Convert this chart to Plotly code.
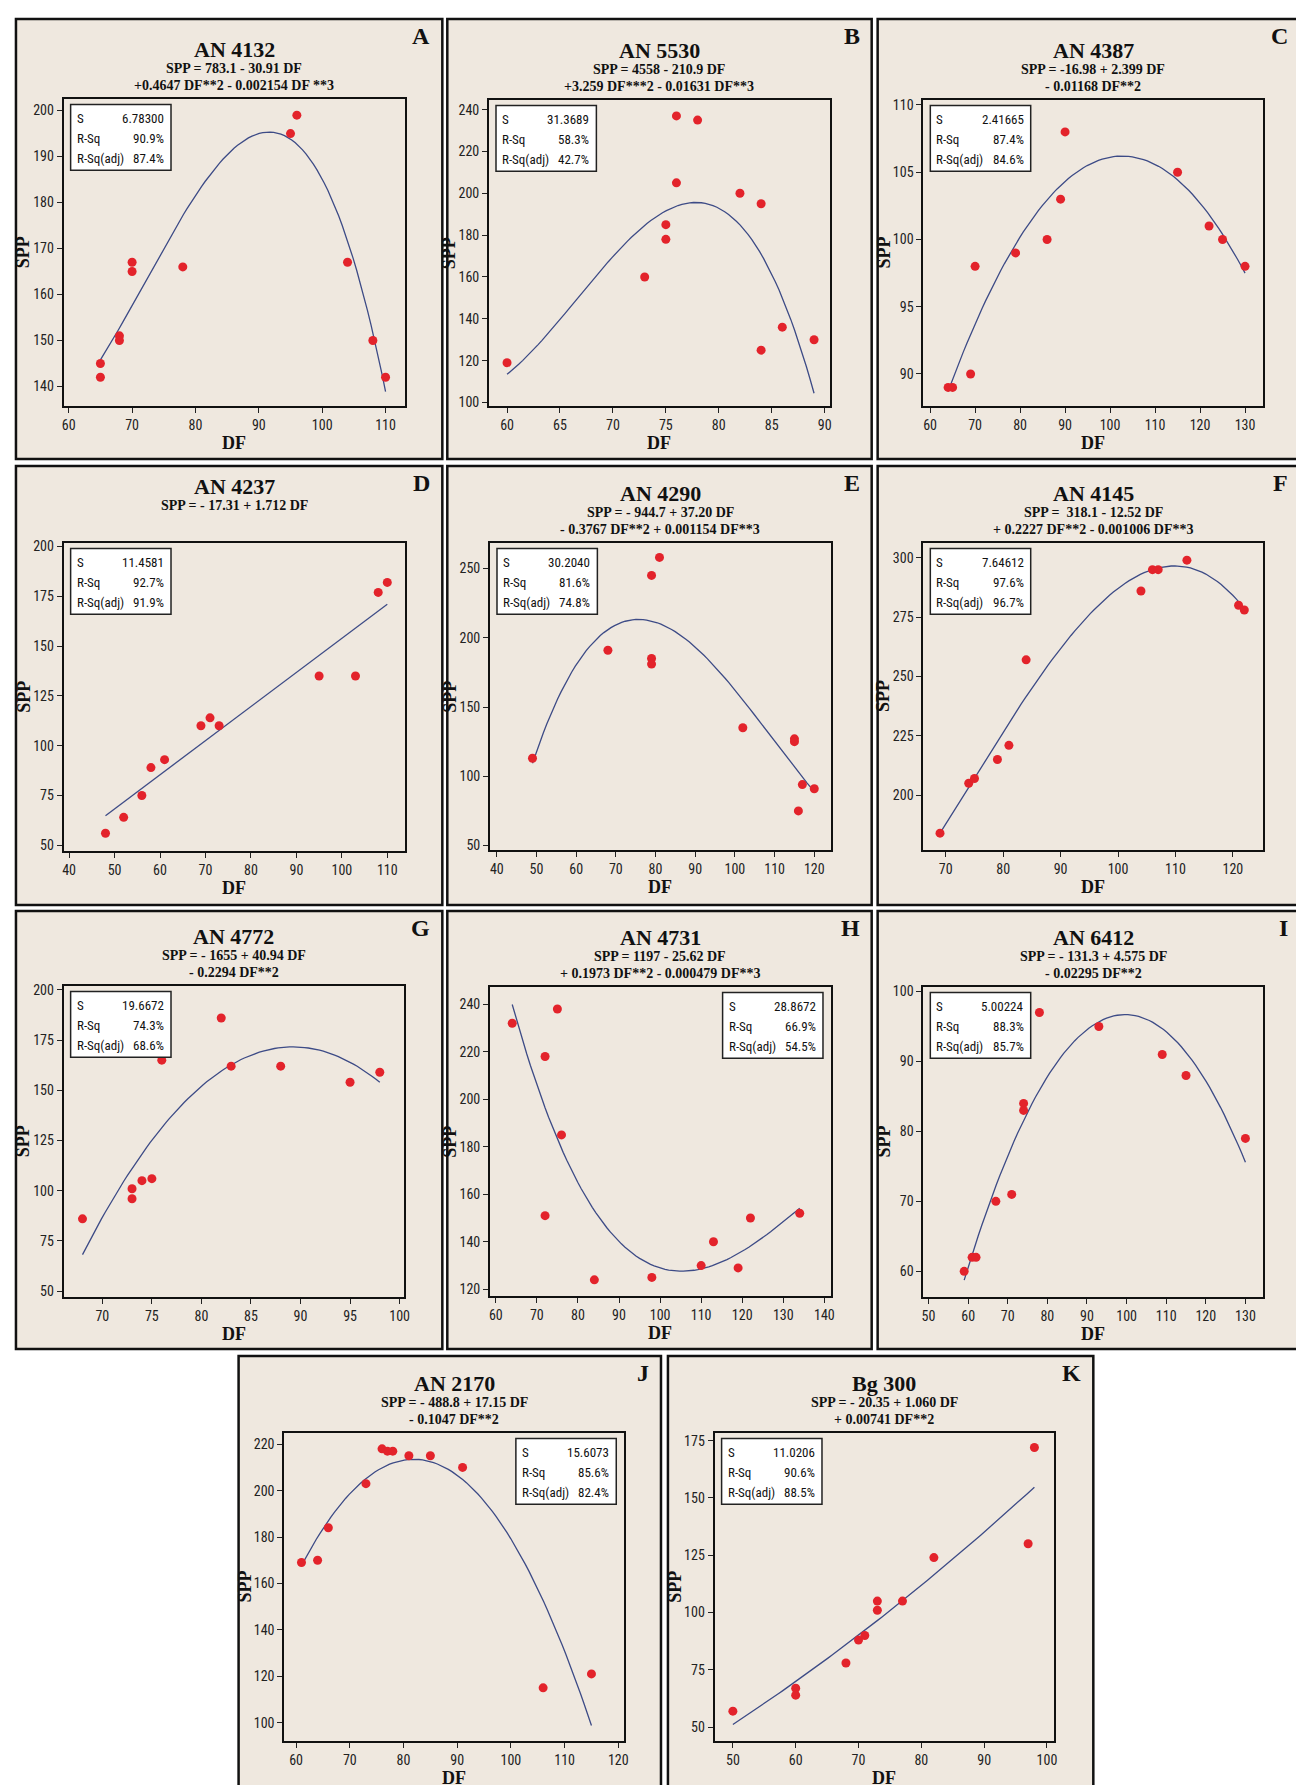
import plotly.graph_objects as go
import numpy as np

W, H = 1304, 1785

# panel data (DF, SPP)
labels = ["A", "B", "C", "D", "E", "F", "G", "H", "I", "J", "K"]
names = ["AN 4132", "AN 5530", "AN 4387", "AN 4237", "AN 4290", "AN 4145",
         "AN 4772", "AN 4731", "AN 6412", "AN 2170", "Bg 300"]
equations = [
    ["SPP = 783.1 - 30.91 DF", "+0.4647 DF**2 - 0.002154 DF **3"],
    ["SPP = 4558 - 210.9 DF", "+3.259 DF***2 - 0.01631 DF**3"],
    ["SPP = -16.98 + 2.399 DF", "- 0.01168 DF**2"],
    ["SPP = - 17.31 + 1.712 DF"],
    ["SPP = - 944.7 + 37.20 DF", "- 0.3767 DF**2 + 0.001154 DF**3"],
    ["SPP =  318.1 - 12.52 DF", "+ 0.2227 DF**2 - 0.001006 DF**3"],
    ["SPP = - 1655 + 40.94 DF", "- 0.2294 DF**2"],
    ["SPP = 1197 - 25.62 DF", "+ 0.1973 DF**2 - 0.000479 DF**3"],
    ["SPP = - 131.3 + 4.575 DF", "- 0.02295 DF**2"],
    ["SPP = - 488.8 + 17.15 DF", "- 0.1047 DF**2"],
    ["SPP = - 20.35 + 1.060 DF", "+ 0.00741 DF**2"],
]
coefs = [
    [783.1, -30.91, 0.4647, -0.002154],
    [4558, -210.9, 3.259, -0.01631],
    [-16.98, 2.399, -0.01168],
    [-17.31, 1.712],
    [-944.7, 37.20, -0.3767, 0.001154],
    [318.1, -12.52, 0.2227, -0.001006],
    [-1655, 40.94, -0.2294],
    [1197, -25.62, 0.1973, -0.000479],
    [-131.3, 4.575, -0.02295],
    [-488.8, 17.15, -0.1047],
    [-20.35, 1.060, 0.00741],
]
stats_s = ["6.78300", "31.3689", "2.41665", "11.4581", "30.2040", "7.64612",
           "19.6672", "28.8672", "5.00224", "15.6073", "11.0206"]
stats_rsq = ["90.9%", "58.3%", "87.4%", "92.7%", "81.6%", "97.6%",
             "74.3%", "66.9%", "88.3%", "85.6%", "90.6%"]
stats_adj = ["87.4%", "42.7%", "84.6%", "91.9%", "74.8%", "96.7%",
             "68.6%", "54.5%", "85.7%", "82.4%", "88.5%"]

df_A = [65, 65, 68, 68, 70, 70, 78, 95, 96, 104, 108, 110]
spp_A = [145, 142, 151, 150, 167, 165, 166, 195, 199, 167, 150, 142]
df_B = [60, 73, 75, 75, 76, 76, 78, 82, 84, 84, 86, 89]
spp_B = [119, 160, 185, 178, 237, 205, 235, 200, 195, 125, 136, 130]
df_C = [64, 65, 69, 70, 79, 86, 89, 90, 115, 122, 125, 130]
spp_C = [89, 89, 90, 98, 99, 100, 103, 108, 105, 101, 100, 98]
df_D = [48, 52, 56, 58, 61, 69, 71, 73, 95, 103, 108, 110]
spp_D = [56, 64, 75, 89, 93, 110, 114, 110, 135, 135, 177, 182]
df_E = [49, 68, 79, 79, 79, 81, 102, 115, 115, 116, 117, 120]
spp_E = [113, 191, 245, 185, 181, 258, 135, 127, 125, 75, 94, 91]
df_F = [69, 74, 75, 79, 81, 84, 104, 106, 107, 112, 121, 122]
spp_F = [184, 205, 207, 215, 221, 257, 286, 295, 295, 299, 280, 278]
df_G = [68, 73, 73, 74, 75, 76, 82, 83, 88, 95, 98]
spp_G = [86, 101, 96, 105, 106, 165, 186, 162, 162, 154, 159]
df_H = [64, 72, 72, 75, 76, 84, 98, 110, 113, 119, 122, 134]
spp_H = [232, 218, 151, 238, 185, 124, 125, 130, 140, 129, 150, 152]
df_I = [59, 61, 62, 67, 71, 74, 74, 78, 93, 109, 115, 130]
spp_I = [60, 62, 62, 70, 71, 84, 83, 97, 95, 91, 88, 79]
df_J = [61, 64, 66, 73, 76, 77, 78, 81, 85, 91, 106, 115]
spp_J = [169, 170, 184, 203, 218, 217, 217, 215, 215, 210, 115, 121]
df_K = [50, 60, 60, 68, 70, 71, 73, 73, 77, 82, 97, 98]
spp_K = [57, 67, 64, 78, 88, 90, 105, 101, 105, 124, 130, 172]

dfs = [df_A, df_B, df_C, df_D, df_E, df_F, df_G, df_H, df_I, df_J, df_K]
spps = [spp_A, spp_B, spp_C, spp_D, spp_E, spp_F, spp_G, spp_H, spp_I, spp_J, spp_K]

x_ranges = [[59.2, 113], [58.3, 90.5], [58.5, 134.05], [38.8, 113.8], [38.3, 124.2],
            [66.1, 125.3], [66.1, 100.4], [58.6, 141.6], [48.7, 134.5], [57.8, 121.1],
            [47.1, 101.05]]
y_ranges = [[135.7, 202.6], [98.2, 244.8], [87.6, 110.4], [47, 202], [46.6, 268.7],
            [176.8, 306.4], [47, 202.1], [117.1, 247.4], [56.3, 100.7], [92, 225],
            [43.9, 178.5]]
x_dtick = [10, 5, 10, 10, 10, 10, 5, 10, 10, 10, 10]
y_dtick = [10, 20, 5, 25, 50, 25, 25, 20, 10, 20, 25]
box_right = [False] * 7 + [True, False, True, False]

# layout geometry in pixels: panel box and plot area
panels = [(6, 435, 7, 449), (440, 867, 7, 449), (873, 1298, 7, 449),
          (6, 435, 456, 897), (440, 867, 456, 897), (873, 1298, 456, 897),
          (6, 435, 903, 1343), (440, 867, 903, 1343), (873, 1298, 903, 1343),
          (230, 655, 1350, 1784), (662, 1090, 1350, 1784)]
plots = [(54, 397, 87, 396), (482, 825, 88, 396), (919, 1261, 88, 396),
         (54, 397, 533, 843), (483, 826, 533, 842), (919, 1261, 533, 842),
         (54, 396, 978, 1291), (483, 826, 979, 1290), (919, 1261, 979, 1291),
         (276, 618, 1427, 1737), (709, 1050, 1427, 1737)]

px = lambda x: x / W
py = lambda y: 1 - y / H

serif = "Liberation Serif, Times New Roman, serif"
narrow = "Liberation Sans Narrow, Roboto Condensed, DejaVu Sans Condensed, sans-serif"


def note(text, x, y, size, family=serif, xanchor="center", angle=0):
    return dict(text=text, xref="paper", yref="paper", x=px(x), y=py(y),
                xanchor=xanchor, yanchor="middle", showarrow=False, textangle=angle,
                font=dict(family=family, size=size, color="#111"))


fig = go.Figure()
shapes, annotations = [], []
layout = {}

for i in range(11):
    k = "" if i == 0 else str(i + 1)
    pl, pr, pt, pb = panels[i]
    l, r, t, b = plots[i]
    shapes.append(dict(type="rect", xref="paper", yref="paper", layer="below",
                       x0=px(pl), x1=px(pr), y0=py(pb), y1=py(pt),
                       fillcolor="#efe8df", line=dict(color="#111", width=2.5)))
    axis_common = dict(ticks="outside", ticklen=5, tickcolor="#222", showline=True,
                       mirror=True, linecolor="#111", linewidth=2, showgrid=False,
                       zeroline=False, tickfont=dict(family=narrow, size=14, color="#222"))
    layout["xaxis" + k] = dict(domain=[px(l), px(r)], anchor="y" + k,
                               range=x_ranges[i], dtick=x_dtick[i], **axis_common)
    layout["yaxis" + k] = dict(domain=[py(b), py(t)], anchor="x" + k,
                               range=y_ranges[i], dtick=y_dtick[i], **axis_common)

    xs = np.array(dfs[i], dtype=float)
    xc = np.linspace(xs.min(), xs.max(), 80)
    yc = sum(c * xc ** p for p, c in enumerate(coefs[i]))
    fig.add_trace(go.Scatter(x=xc, y=yc, mode="lines", xaxis="x" + k, yaxis="y" + k,
                             line=dict(color="#3d4b86", width=1.3), showlegend=False))
    fig.add_trace(go.Scatter(x=dfs[i], y=spps[i], mode="markers", xaxis="x" + k, yaxis="y" + k,
                             marker=dict(color="#e3232b", size=9), showlegend=False))

    cx = (l + r) / 2
    nlines = len(equations[i])
    if nlines == 2:
        annotations.append(note("<b>%s</b>" % names[i], cx, t - 49, 22))
        eq_ys = [t - 30, t - 13]
    else:
        annotations.append(note("<b>%s</b>" % names[i], cx, t - 56, 22))
        eq_ys = [t - 37]
    for line, ey in zip(equations[i], eq_ys):
        annotations.append(note("<b>%s</b>" % line, cx, ey, 14))
    annotations.append(note("<b>%s</b>" % labels[i], pr - 10, pt + 17, 24, xanchor="right"))
    annotations.append(note("<b>DF</b>", cx, b + 37, 18))
    annotations.append(note("<b>SPP</b>", l - 40, (t + b) / 2, 18, angle=-90))

    # stats box
    if box_right[i]:
        bx0, bx1 = r - 109, r - 8
    else:
        bx0, bx1 = l + 7, l + 108
    by0, by1 = t + 6, t + 72
    shapes.append(dict(type="rect", xref="paper", yref="paper",
                       x0=px(bx0), x1=px(bx1), y0=py(by1), y1=py(by0),
                       fillcolor="white", line=dict(color="#222", width=1.5)))
    for j, (lab, val) in enumerate(zip(["S", "R-Sq", "R-Sq(adj)"],
                                       [stats_s[i], stats_rsq[i], stats_adj[i]])):
        yy = by0 + 14 + 20 * j
        annotations.append(note(lab, bx0 + 4, yy, 13, family=narrow, xanchor="left"))
        annotations.append(note(val, bx1 - 5, yy, 13, family=narrow, xanchor="right"))

fig.update_layout(width=W, height=H, margin=dict(l=0, r=0, t=0, b=0),
                  paper_bgcolor="white", plot_bgcolor="white",
                  shapes=shapes, annotations=annotations, **layout)

fig.write_html("out.html")
